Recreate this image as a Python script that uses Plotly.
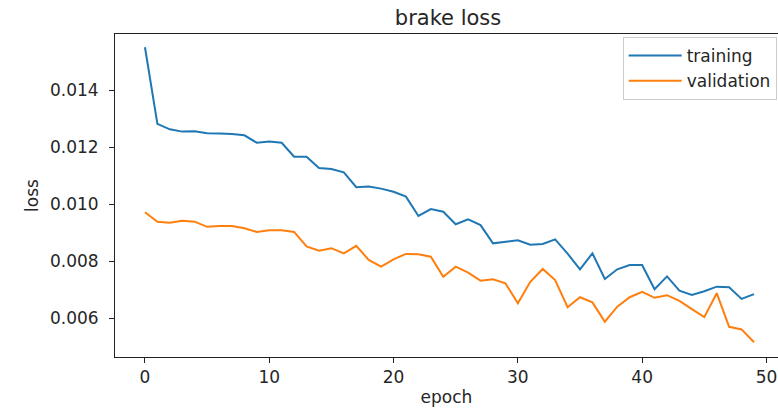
import plotly.graph_objects as go

# Per-epoch loss history for the brake head
epochs = list(range(50))
training_loss = [
    0.01550, 0.01281, 0.01262, 0.01254, 0.01255, 0.01248, 0.01247, 0.01246, 0.01241, 0.01215,
    0.01219, 0.01215, 0.01166, 0.01166, 0.01126, 0.01123, 0.01111, 0.01059, 0.01061, 0.01054,
    0.01043, 0.01026, 0.00958, 0.00982, 0.00973, 0.00929, 0.00946, 0.00926, 0.00862, 0.00868,
    0.00873, 0.00857, 0.00860, 0.00876, 0.00826, 0.00771, 0.00827, 0.00737, 0.00771, 0.00786,
    0.00786, 0.00701, 0.00746, 0.00696, 0.00681, 0.00694, 0.00710, 0.00708, 0.00667, 0.00684,
]
validation_loss = [
    0.00971, 0.00938, 0.00934, 0.00941, 0.00938, 0.00920, 0.00923, 0.00923, 0.00915, 0.00902,
    0.00908, 0.00908, 0.00902, 0.00851, 0.00836, 0.00845, 0.00827, 0.00853, 0.00804, 0.00780,
    0.00806, 0.00825, 0.00824, 0.00815, 0.00745, 0.00780, 0.00759, 0.00731, 0.00736, 0.00722,
    0.00652, 0.00727, 0.00772, 0.00733, 0.00638, 0.00673, 0.00655, 0.00587, 0.00640, 0.00673,
    0.00692, 0.00671, 0.00680, 0.00660, 0.00631, 0.00603, 0.00687, 0.00569, 0.00560, 0.00515,
]
x_ticks = [0, 10, 20, 30, 40, 50]
y_ticks = [0.006, 0.008, 0.010, 0.012, 0.014]

FONT = "DejaVu Sans"
TEXT = "#262626"

fig = go.Figure()
fig.add_trace(go.Scatter(x=epochs, y=training_loss, mode="lines", name="training",
                         line=dict(color="#1f77b4", width=2)))
fig.add_trace(go.Scatter(x=epochs, y=validation_loss, mode="lines", name="validation",
                         line=dict(color="#ff7f0e", width=2)))

fig.update_layout(
    width=778, height=409,
    margin=dict(l=115, r=0, t=34, b=52),
    paper_bgcolor="white", plot_bgcolor="white",
    font=dict(family=FONT, size=17, color=TEXT),
    title=dict(text="brake loss", x=448 / 778, xanchor="center", y=1 - 18 / 409, yanchor="middle",
               font=dict(family=FONT, size=21, color=TEXT)),
    showlegend=True,
    legend=dict(x=0.998, xanchor="right", y=1 - 3 / 323, yanchor="top",
                bgcolor="white", bordercolor="#cccccc", borderwidth=1,
                font=dict(family=FONT, size=17, color=TEXT),
                itemwidth=53),
)

fig.update_xaxes(
    range=[-2.41, 50.93], tickmode="array", tickvals=x_ticks,
    showgrid=False, zeroline=False,
    showline=True, linecolor="#222222", linewidth=1, mirror=True,
    ticks="outside", ticklen=5, tickcolor="#222222",
    tickfont=dict(family=FONT, size=17, color=TEXT),
    title=dict(text="epoch", font=dict(family=FONT, size=17, color=TEXT), standoff=4),
)
fig.update_yaxes(
    range=[0.004632, 0.015965], tickmode="array", tickvals=y_ticks, tickformat=".3f",
    showgrid=False, zeroline=False,
    showline=True, linecolor="#222222", linewidth=1, mirror=False,
    ticks="outside", ticklen=5, tickcolor="#222222", ticklabelstandoff=7,
    tickfont=dict(family=FONT, size=17, color=TEXT),
    title=dict(text="loss", font=dict(family=FONT, size=17, color=TEXT), standoff=6),
)

fig.write_html("out.html")
